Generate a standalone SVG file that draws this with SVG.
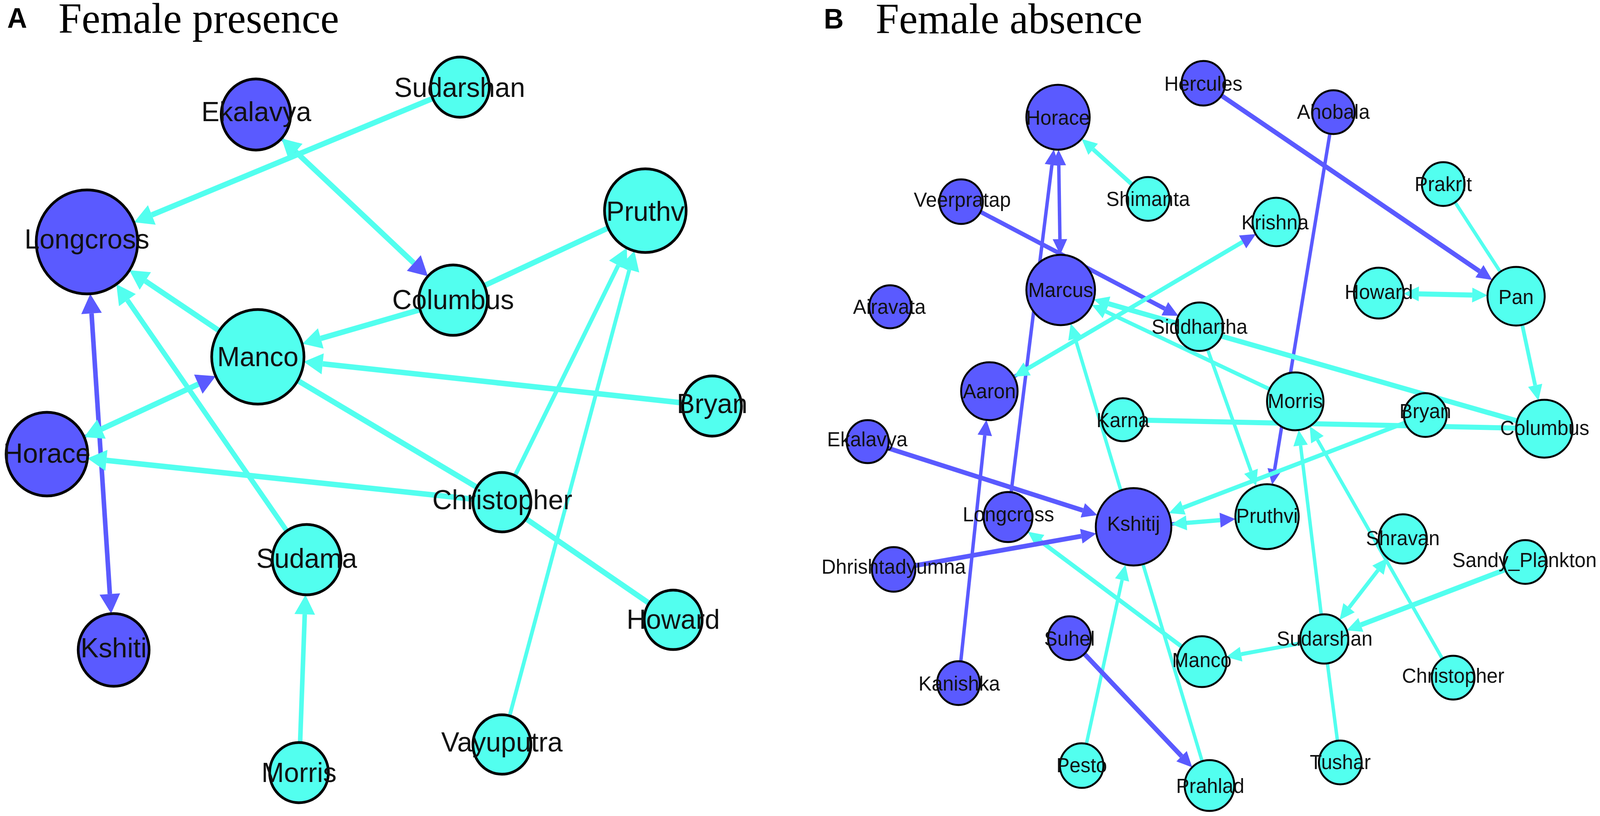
<svg xmlns="http://www.w3.org/2000/svg" width="4195" height="2088" viewBox="0 0 4195 2088" preserveAspectRatio="none">
<defs>
<style>
svg{width:100vw;height:100vh}
.ec{stroke:#52FFEF;fill:none}
.eb{stroke:#5A5AFF;fill:none}
.nb{fill:#5A5AFF;stroke:#000}
.nc{fill:#52FFEF;stroke:#000}
.pa circle{stroke-width:7}
.pb circle{stroke-width:5}
.pa text{font-family:"Liberation Sans",Arial,sans-serif;font-size:71px;fill:#111;text-anchor:middle}
.pb text{font-family:"Liberation Sans",Arial,sans-serif;font-size:52px;fill:#111;text-anchor:middle}
.lbl{font-family:"Liberation Sans",Arial,sans-serif;font-weight:bold;font-size:72px;fill:#000}
.ttl{font-family:"Liberation Serif","Times New Roman",serif;font-size:110px;fill:#000}
</style>
<marker id="aC" markerUnits="userSpaceOnUse" markerWidth="52" markerHeight="56" refX="0" refY="27" orient="auto-start-reverse" overflow="visible"><path d="M0,0 L50,27 L0,54 z" fill="#52FFEF"/></marker>
<marker id="aB" markerUnits="userSpaceOnUse" markerWidth="52" markerHeight="56" refX="0" refY="27" orient="auto-start-reverse" overflow="visible"><path d="M0,0 L50,27 L0,54 z" fill="#5A5AFF"/></marker>
<marker id="bC" markerUnits="userSpaceOnUse" markerWidth="42" markerHeight="40" refX="0" refY="19" orient="auto-start-reverse" overflow="visible"><path d="M0,0 L40,19 L0,38 z" fill="#52FFEF"/></marker>
<marker id="bB" markerUnits="userSpaceOnUse" markerWidth="42" markerHeight="40" refX="0" refY="19" orient="auto-start-reverse" overflow="visible"><path d="M0,0 L40,19 L0,38 z" fill="#5A5AFF"/></marker>
</defs>
<rect width="4195" height="2088" fill="#fff"/>
<g id="titles">
<text class="lbl" x="19" y="71">A</text>
<text class="ttl" x="153" y="84">Female presence</text>
<text class="lbl" x="2160" y="73">B</text>
<text class="ttl" x="2296" y="85">Female absence</text>
</g>
<g id="connectors-a">
<line class="ec" x1="1206" y1="223" x2="398" y2="550" stroke-width="14" marker-end="url(#aC)"/>
<line class="eb" x1="671" y1="293" x2="1085" y2="673" stroke-width="8" marker-end="url(#aB)"/>
<line class="ec" x1="1085" y1="673" x2="775" y2="388" stroke-width="14" marker-end="url(#aC)"/>
<line class="ec" x1="1692" y1="539" x2="1188" y2="768" stroke-width="14"/>
<line class="ec" x1="1188" y1="768" x2="841" y2="866" stroke-width="14" marker-end="url(#aC)"/>
<line class="ec" x1="1867" y1="1039" x2="846" y2="931" stroke-width="14" marker-end="url(#aC)"/>
<line class="ec" x1="676" y1="913" x2="381" y2="719" stroke-width="14" marker-end="url(#aC)"/>
<line class="ec" x1="804" y1="1432" x2="334" y2="768" stroke-width="13" marker-end="url(#aC)"/>
<line class="eb" x1="240" y1="802" x2="288" y2="1520" stroke-width="12" marker-start="url(#aB)" marker-end="url(#aB)"/>
<line class="eb" x1="123" y1="1162" x2="520" y2="983" stroke-width="8" marker-end="url(#aB)"/>
<line class="ec" x1="520" y1="983" x2="266" y2="1098" stroke-width="14" marker-end="url(#aC)"/>
<line class="ec" x1="1316" y1="1285" x2="279" y2="1178" stroke-width="14" marker-end="url(#aC)"/>
<line class="ec" x1="676" y1="913" x2="1316" y2="1285" stroke-width="14"/>
<line class="ec" x1="1316" y1="1285" x2="1621" y2="679" stroke-width="11" marker-end="url(#aC)"/>
<line class="ec" x1="1316" y1="1905" x2="1650" y2="690" stroke-width="10" marker-end="url(#aC)"/>
<line class="ec" x1="1316" y1="1285" x2="1765" y2="1586" stroke-width="14"/>
<line class="ec" x1="784" y1="1977" x2="799" y2="1572" stroke-width="12" marker-end="url(#aC)"/>
</g>
<g id="connectors-b">
<line class="eb" x1="3155" y1="213" x2="3879" y2="694" stroke-width="12" marker-end="url(#bB)"/>
<line class="eb" x1="3496" y1="287" x2="3342" y2="1201" stroke-width="9" marker-end="url(#bB)"/>
<line class="ec" x1="3784" y1="471" x2="3975" y2="758" stroke-width="9"/>
<line class="ec" x1="3975" y1="758" x2="4025" y2="986" stroke-width="10" marker-end="url(#bC)"/>
<line class="ec" x1="3720" y1="752" x2="3860" y2="755" stroke-width="13" marker-start="url(#bC)" marker-end="url(#bC)"/>
<line class="ec" x1="3010" y1="509" x2="2866" y2="382" stroke-width="11" marker-end="url(#bC)"/>
<line class="eb" x1="2776" y1="423" x2="2779" y2="612" stroke-width="9" marker-start="url(#bB)" marker-end="url(#bB)"/>
<line class="eb" x1="2643" y1="1323" x2="2758" y2="422" stroke-width="9" marker-end="url(#bB)"/>
<line class="eb" x1="2520" y1="516" x2="3054" y2="790" stroke-width="11" marker-end="url(#bB)"/>
<line class="ec" x1="4049" y1="1097" x2="2906" y2="777" stroke-width="13" marker-end="url(#bC)"/>
<line class="ec" x1="3396" y1="1027" x2="2899" y2="797" stroke-width="10" marker-end="url(#bC)"/>
<line class="ec" x1="3171" y1="2010" x2="2819" y2="866" stroke-width="9" marker-end="url(#bC)"/>
<line class="eb" x1="2594" y1="1001" x2="3258" y2="619" stroke-width="9" marker-end="url(#bB)"/>
<line class="ec" x1="3258" y1="619" x2="2693" y2="944" stroke-width="11" marker-end="url(#bC)"/>
<line class="ec" x1="2944" y1="1074" x2="4049" y2="1097" stroke-width="13"/>
<line class="ec" x1="3737" y1="1062" x2="3102" y2="1299" stroke-width="11" marker-end="url(#bC)"/>
<line class="eb" x1="2972" y1="1348" x2="3199" y2="1331" stroke-width="9" marker-end="url(#bB)"/>
<line class="ec" x1="3199" y1="1331" x2="3111" y2="1338" stroke-width="11" marker-end="url(#bC)"/>
<line class="ec" x1="3145" y1="836" x2="3280" y2="1206" stroke-width="9" marker-end="url(#bC)"/>
<line class="ec" x1="3472" y1="1635" x2="3410" y2="1140" stroke-width="9" marker-end="url(#bC)"/>
<line class="ec" x1="3810" y1="1734" x2="3454" y2="1125" stroke-width="9" marker-end="url(#bC)"/>
<line class="ec" x1="3537" y1="1555" x2="3613" y2="1459" stroke-width="10" marker-start="url(#bC)" marker-end="url(#bC)"/>
<line class="ec" x1="3999" y1="1438" x2="3568" y2="1599" stroke-width="13" marker-end="url(#bC)"/>
<line class="ec" x1="3472" y1="1635" x2="3254" y2="1674" stroke-width="10" marker-end="url(#bC)"/>
<line class="ec" x1="3472" y1="1635" x2="3514" y2="1951" stroke-width="9"/>
<line class="ec" x1="3151" y1="1693" x2="2727" y2="1384" stroke-width="11" marker-end="url(#bC)"/>
<line class="eb" x1="2275" y1="1130" x2="2839" y2="1306" stroke-width="12" marker-end="url(#bB)"/>
<line class="eb" x1="2343" y1="1457" x2="2835" y2="1372" stroke-width="12" marker-end="url(#bB)"/>
<line class="eb" x1="2513" y1="1748" x2="2582" y2="1114" stroke-width="9" marker-end="url(#bB)"/>
<line class="ec" x1="2836" y1="1959" x2="2942" y2="1484" stroke-width="9" marker-end="url(#bC)"/>
<line class="eb" x1="2804" y1="1633" x2="3098" y2="1935" stroke-width="12" marker-end="url(#bB)"/>
</g>
<g id="nodes-a" class="pa">
<g id="a-longcross"><circle class="nb" cx="228" cy="619" r="133"/><text x="228" y="636">Longcross</text></g>
<g id="a-ekalavya"><circle class="nb" cx="671" cy="293" r="91"/><text x="672" y="310">Ekalavya</text></g>
<g id="a-sudarshan"><circle class="nc" cx="1206" cy="223" r="77"/><text x="1205" y="248">Sudarshan</text></g>
<g id="a-pruthv"><circle class="nc" cx="1692" cy="539" r="107"/><text x="1692" y="565">Pruthv</text></g>
<g id="a-columbus"><circle class="nc" cx="1188" cy="768" r="90"/><text x="1188" y="791">Columbus</text></g>
<g id="a-manco"><circle class="nc" cx="676" cy="913" r="121"/><text x="676" y="937">Manco</text></g>
<g id="a-bryan"><circle class="nc" cx="1867" cy="1039" r="77"/><text x="1867" y="1057">Bryan</text></g>
<g id="a-horace"><circle class="nb" cx="123" cy="1162" r="107"/><text x="123" y="1184">Horace</text></g>
<g id="a-christopher"><circle class="nc" cx="1316" cy="1285" r="76"/><text x="1317" y="1303">Christopher</text></g>
<g id="a-sudama"><circle class="nc" cx="804" cy="1432" r="90"/><text x="804" y="1453">Sudama</text></g>
<g id="a-kshiti"><circle class="nb" cx="298" cy="1663" r="93"/><text x="298" y="1682">Kshiti</text></g>
<g id="a-morris"><circle class="nc" cx="784" cy="1977" r="77"/><text x="784" y="2001">Morris</text></g>
<g id="a-howard"><circle class="nc" cx="1765" cy="1586" r="76"/><text x="1765" y="1609">Howard</text></g>
<g id="a-vayuputra"><circle class="nc" cx="1316" cy="1905" r="76"/><text x="1316" y="1923">Vayuputra</text></g>
</g>
<g id="nodes-b" class="pb">
<g id="b-horace"><circle class="nb" cx="2774" cy="300" r="83"/><text x="2774" y="319">Horace</text></g>
<g id="b-hercules"><circle class="nb" cx="3155" cy="213" r="57"/><text x="3155" y="232">Hercules</text></g>
<g id="b-ahobala"><circle class="nb" cx="3496" cy="287" r="56"/><text x="3496" y="304">Ahobala</text></g>
<g id="b-prakrit"><circle class="nc" cx="3784" cy="471" r="56"/><text x="3784" y="489">Prakrit</text></g>
<g id="b-veerpratap"><circle class="nb" cx="2520" cy="516" r="57"/><text x="2523" y="529">Veerpratap</text></g>
<g id="b-shimanta"><circle class="nc" cx="3010" cy="509" r="56"/><text x="3010" y="527">Shimanta</text></g>
<g id="b-krishna"><circle class="nc" cx="3346" cy="568" r="62"/><text x="3343" y="587">Krishna</text></g>
<g id="b-marcus"><circle class="nb" cx="2781" cy="742" r="90"/><text x="2781" y="760">Marcus</text></g>
<g id="b-siddhartha"><circle class="nc" cx="3145" cy="836" r="62"/><text x="3145" y="854">Siddhartha</text></g>
<g id="b-howard"><circle class="nc" cx="3615" cy="750" r="65"/><text x="3615" y="765">Howard</text></g>
<g id="b-pan"><circle class="nc" cx="3975" cy="758" r="75"/><text x="3975" y="778">Pan</text></g>
<g id="b-airavata"><circle class="nb" cx="2334" cy="785" r="55"/><text x="2332" y="803">Airavata</text></g>
<g id="b-aaron"><circle class="nb" cx="2594" cy="1001" r="74"/><text x="2594" y="1019">Aaron</text></g>
<g id="b-morris"><circle class="nc" cx="3396" cy="1027" r="74"/><text x="3396" y="1044">Morris</text></g>
<g id="b-bryan"><circle class="nc" cx="3737" cy="1062" r="56"/><text x="3737" y="1070">Bryan</text></g>
<g id="b-columbus"><circle class="nc" cx="4049" cy="1097" r="74"/><text x="4050" y="1113">Columbus</text></g>
<g id="b-karna"><circle class="nc" cx="2944" cy="1074" r="55"/><text x="2944" y="1093">Karna</text></g>
<g id="b-ekalavya"><circle class="nb" cx="2275" cy="1130" r="55"/><text x="2274" y="1142">Ekalavya</text></g>
<g id="b-longcross"><circle class="nb" cx="2643" cy="1323" r="64"/><text x="2644" y="1334">Longcross</text></g>
<g id="b-kshitij"><circle class="nb" cx="2972" cy="1348" r="99"/><text x="2972" y="1358">Kshitij</text></g>
<g id="b-pruthvi"><circle class="nc" cx="3322" cy="1322" r="83"/><text x="3322" y="1338">Pruthvi</text></g>
<g id="b-shravan"><circle class="nc" cx="3678" cy="1379" r="63"/><text x="3678" y="1395">Shravan</text></g>
<g id="b-sandy-plankton"><circle class="nc" cx="3999" cy="1438" r="56"/><text x="3997" y="1451">Sandy_Plankton</text></g>
<g id="b-dhrishtadyumna"><circle class="nb" cx="2343" cy="1457" r="57"/><text x="2343" y="1468">Dhrishtadyumna</text></g>
<g id="b-sudarshan"><circle class="nc" cx="3472" cy="1635" r="63"/><text x="3473" y="1652">Sudarshan</text></g>
<g id="b-suhel"><circle class="nb" cx="2804" cy="1633" r="56"/><text x="2804" y="1652">Suhel</text></g>
<g id="b-manco"><circle class="nc" cx="3151" cy="1693" r="65"/><text x="3151" y="1707">Manco</text></g>
<g id="b-christopher"><circle class="nc" cx="3810" cy="1734" r="56"/><text x="3810" y="1747">Christopher</text></g>
<g id="b-kanishka"><circle class="nb" cx="2513" cy="1748" r="56"/><text x="2515" y="1767">Kanishka</text></g>
<g id="b-pesto"><circle class="nc" cx="2836" cy="1959" r="57"/><text x="2836" y="1976">Pesto</text></g>
<g id="b-prahlad"><circle class="nc" cx="3171" cy="2010" r="65"/><text x="3173" y="2029">Prahlad</text></g>
<g id="b-tushar"><circle class="nc" cx="3514" cy="1951" r="56"/><text x="3514" y="1968">Tushar</text></g>
</g>
</svg>
